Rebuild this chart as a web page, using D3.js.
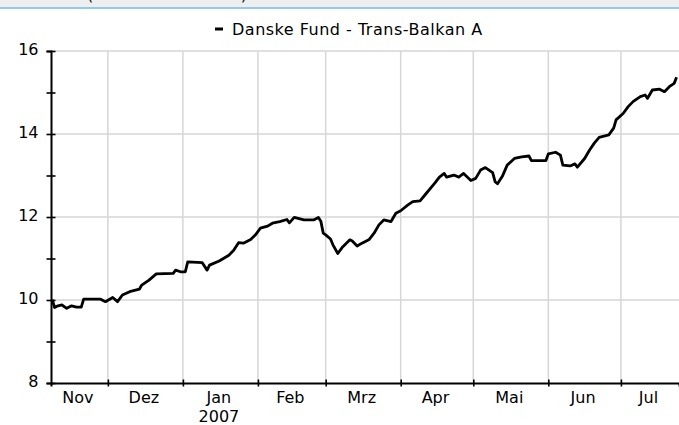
<!DOCTYPE html>
<html>
<head>
<meta charset="utf-8">
<script src="https://cdn.jsdelivr.net/npm/d3@7"></script>
<style>
  body { margin: 0; background: #fff; }
  svg { display: block; font-family: "DejaVu Sans", sans-serif; }
</style>
</head>
<body>
<svg id="chart" width="679" height="425"></svg>
<script>
// values (closing prices, EUR)
var dates = [
  "2006-11-08","2006-11-09","2006-11-10","2006-11-12","2006-11-14","2006-11-16","2006-11-18","2006-11-20",
  "2006-11-21","2006-11-28","2006-11-30","2006-12-03","2006-12-05","2006-12-07","2006-12-10","2006-12-14",
  "2006-12-15","2006-12-18","2006-12-21","2006-12-28","2006-12-29","2006-12-31","2007-01-02","2007-01-03",
  "2007-01-09","2007-01-11","2007-01-12","2007-01-16","2007-01-20","2007-01-22","2007-01-24","2007-01-26",
  "2007-01-29","2007-01-31","2007-02-02","2007-02-05","2007-02-07","2007-02-10","2007-02-13","2007-02-14",
  "2007-02-16","2007-02-20","2007-02-24","2007-02-26","2007-02-27","2007-02-28","2007-03-01","2007-03-03",
  "2007-03-04","2007-03-06","2007-03-08","2007-03-11","2007-03-12","2007-03-14","2007-03-16","2007-03-19",
  "2007-03-21","2007-03-23","2007-03-25","2007-03-28","2007-03-30","2007-04-01","2007-04-04","2007-04-06",
  "2007-04-09","2007-04-11","2007-04-15","2007-04-17","2007-04-19","2007-04-20","2007-04-23","2007-04-25",
  "2007-04-27","2007-04-30","2007-05-02","2007-05-04","2007-05-06","2007-05-09","2007-05-10","2007-05-11",
  "2007-05-13","2007-05-15","2007-05-18","2007-05-21","2007-05-24","2007-05-25","2007-05-29","2007-05-31",
  "2007-06-01","2007-06-04","2007-06-06","2007-06-07","2007-06-10","2007-06-12","2007-06-13","2007-06-16",
  "2007-06-18","2007-06-20","2007-06-22","2007-06-26","2007-06-28","2007-06-29","2007-07-02","2007-07-04",
  "2007-07-06","2007-07-09","2007-07-11","2007-07-12","2007-07-14","2007-07-17","2007-07-19","2007-07-21",
  "2007-07-23","2007-07-24"
];
var prices = [
  10.01, 9.82, 9.85, 9.88, 9.80, 9.86, 9.83, 9.83,
  10.02, 10.02, 9.96, 10.06, 9.96, 10.12, 10.20, 10.26,
  10.36, 10.48, 10.63, 10.64, 10.72, 10.68, 10.68, 10.92,
  10.90, 10.72, 10.84, 10.94, 11.08, 11.20, 11.38, 11.37,
  11.46, 11.57, 11.73, 11.78, 11.85, 11.89, 11.94, 11.86,
  11.99, 11.93, 11.93, 11.99, 11.90, 11.61, 11.57, 11.47,
  11.33, 11.12, 11.28, 11.45, 11.42, 11.30, 11.37, 11.46,
  11.61, 11.81, 11.93, 11.89, 12.09, 12.15, 12.29, 12.37,
  12.39, 12.53, 12.81, 12.96, 13.05, 12.96, 13.01, 12.96,
  13.05, 12.88, 12.93, 13.13, 13.19, 13.07, 12.85, 12.80,
  12.98, 13.25, 13.41, 13.45, 13.47, 13.36, 13.36, 13.36,
  13.52, 13.56, 13.49, 13.25, 13.23, 13.28, 13.20, 13.41,
  13.61, 13.78, 13.92, 13.98, 14.14, 14.34, 14.50, 14.66,
  14.78, 14.90, 14.94, 14.86, 15.06, 15.08, 15.02, 15.14,
  15.22, 15.37
];
var seriesName = "Danske Fund - Trans-Balkan A";
var monthLabels = ["Nov","Dez","Jan","Feb","Mrz","Apr","Mai","Jun","Jul"];
var yTicks = [8, 9, 10, 11, 12, 13, 14, 15, 16];
var yLabelled = [8, 10, 12, 14, 16];

var parse = d3.timeParse("%Y-%m-%d");
var data = dates.map(function(d, i) { return { date: parse(d), value: prices[i] }; });

var svg = d3.select("#chart");

var x = d3.scaleTime()
  .domain([new Date(2006, 10, 7, 12), new Date(2007, 6, 25)])
  .range([51, 679]);
var y = d3.scaleLinear().domain([8, 16]).range([383, 51]);

// top strip (cut off header, only the brackets peek out)
svg.append("rect").attr("x", 0).attr("y", 0).attr("width", 679).attr("height", 7).attr("fill", "#eeeeee");
svg.append("rect").attr("x", 0).attr("y", 7).attr("width", 679).attr("height", 2).attr("fill", "#93c8f2");
svg.append("text")
  .attr("x", 87).attr("y", 0)
  .attr("textLength", 160).attr("lengthAdjust", "spacing")
  .attr("font-size", 16).attr("fill", "#000")
  .text("(Rücknahmekurs in EUR)");

var monthStarts = d3.timeMonth.range(new Date(2006, 11, 1), new Date(2007, 6, 2));

// grid
svg.append("g")
  .selectAll("line")
  .data(yLabelled.filter(function(v) { return v > 8; }))
  .join("line")
    .attr("x1", x.range()[0]).attr("x2", x.range()[1])
    .attr("y1", function(d) { return y(d); }).attr("y2", function(d) { return y(d); })
    .attr("stroke", "#d6d6d6").attr("stroke-width", 1.5);

svg.append("g")
  .selectAll("line")
  .data(monthStarts)
  .join("line")
    .attr("x1", function(d) { return x(d); }).attr("x2", function(d) { return x(d); })
    .attr("y1", y(16)).attr("y2", y(8))
    .attr("stroke", "#d6d6d6").attr("stroke-width", 1.5);

// y axis
var yAxis = svg.append("g")
  .attr("transform", "translate(" + x.range()[0] + ",0)")
  .call(d3.axisLeft(y).tickValues(yTicks).tickSize(4.5).tickPadding(8)
    .tickFormat(function(d) { return yLabelled.indexOf(d) >= 0 ? d : ""; }));
yAxis.select(".domain").attr("stroke", "#000").attr("stroke-width", 2);
yAxis.selectAll(".tick line").attr("x1", 4.5).attr("stroke-width", 1.6);
yAxis.selectAll(".tick text")
  .attr("font-family", "DejaVu Sans").attr("font-size", 16).attr("fill", "#000")
  .attr("dy", "0.2em");

// x axis
var xAxis = svg.append("g")
  .attr("transform", "translate(0," + y.range()[0] + ")")
  .call(d3.axisBottom(x).tickValues(monthStarts).tickSize(3.5).tickFormat(""));
xAxis.select(".domain").attr("stroke", "#000").attr("stroke-width", 2);
xAxis.selectAll(".tick line").attr("y1", -3.5).attr("stroke-width", 1.6);

// month labels centred in the visible part of each month
var monthBounds = [x.domain()[0]].concat(monthStarts, [x.domain()[1]]);
svg.append("g")
  .selectAll("text")
  .data(monthLabels)
  .join("text")
    .attr("x", function(d, i) { return (x(monthBounds[i]) + x(monthBounds[i + 1])) / 2 - 1.5; })
    .attr("y", 403)
    .attr("text-anchor", "middle")
    .attr("font-size", 16)
    .text(function(d) { return d; });

svg.append("text")
  .attr("x", (x(monthBounds[2]) + x(monthBounds[3])) / 2 - 1.5)
  .attr("y", 421.5)
  .attr("text-anchor", "middle")
  .attr("font-size", 16)
  .text("2007");

// legend
svg.append("rect").attr("x", 215).attr("y", 27.5).attr("width", 8).attr("height", 3).attr("fill", "#000");
svg.append("text")
  .attr("x", 232).attr("y", 35)
  .attr("font-size", 16)
  .attr("letter-spacing", 0.5)
  .text(seriesName);

// price line
var line = d3.line()
  .x(function(d) { return x(d.date); })
  .y(function(d) { return y(d.value); });

svg.append("path")
  .datum(data)
  .attr("fill", "none")
  .attr("stroke", "#000")
  .attr("stroke-width", 2.8)
  .attr("stroke-linejoin", "round")
  .attr("d", line);
</script>
</body>
</html>
